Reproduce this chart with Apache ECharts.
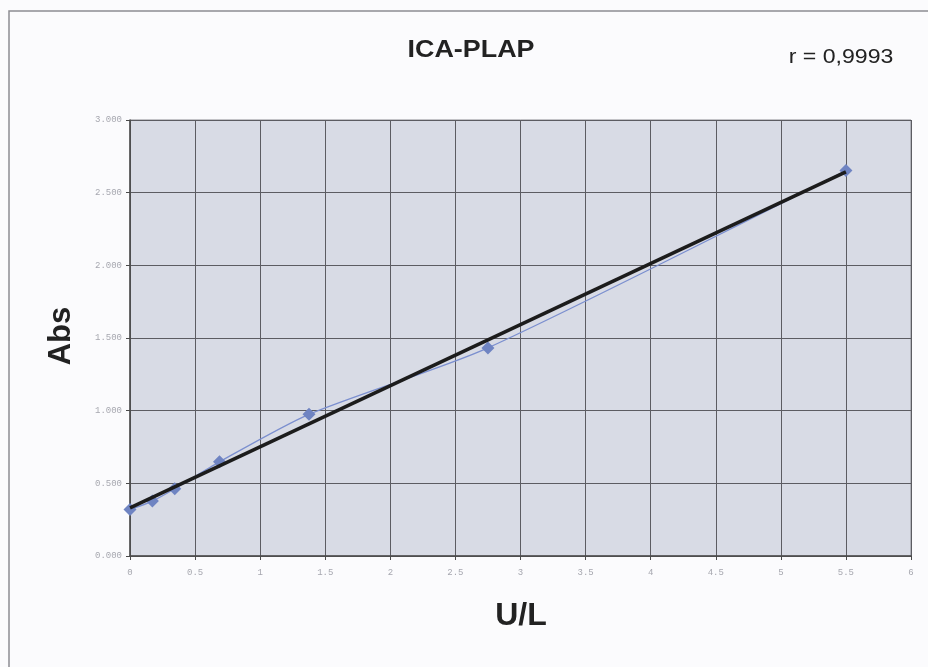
<!DOCTYPE html>
<html>
<head>
<meta charset="utf-8">
<script src="https://cdn.jsdelivr.net/npm/echarts@6/dist/echarts.min.js"></script>
<style>
  html, body { margin: 0; padding: 0; background: #fbfbfd; }
  #chart { width: 928px; height: 667px; }
</style>
</head>
<body>
<div id="chart"></div>
<script>
// Calibration points: activity (U/L) and measured absorbance
const activity = [0, 0.171875, 0.34375, 0.6875, 1.375, 2.75, 5.5];
const absorbance = [0.320, 0.378, 0.463, 0.648, 0.975, 1.432, 2.652];

const yTicks = [0, 0.5, 1, 1.5, 2, 2.5, 3];
const xTicks = [0, 0.5, 1, 1.5, 2, 2.5, 3, 3.5, 4, 4.5, 5, 5.5, 6];

const titleText = 'ICA-PLAP';
const rText = 'r = 0,9993';
const yName = 'Abs';
const xName = 'U/L';

// Least-squares trend line through the calibration points
function linearFit(xs, ys) {
  const n = xs.length;
  const mx = xs.reduce((a, b) => a + b, 0) / n;
  const my = ys.reduce((a, b) => a + b, 0) / n;
  let sxx = 0, sxy = 0;
  for (let i = 0; i < n; i++) {
    sxx += (xs[i] - mx) * (xs[i] - mx);
    sxy += (xs[i] - mx) * (ys[i] - my);
  }
  const slope = sxy / sxx;
  return { slope, intercept: my - slope * mx };
}
const fit = linearFit(activity, absorbance);
const xMin = Math.min(...activity), xMax = Math.max(...activity);
const trend = [
  [xMin, fit.intercept + fit.slope * xMin],
  [xMax, fit.intercept + fit.slope * xMax]
];

const chart = echarts.init(document.getElementById('chart'), null, { renderer: 'canvas' });

const tickLabel = {
  fontFamily: 'Liberation Mono',
  fontSize: 9,
  color: '#a6a7af'
};

chart.setOption({
  backgroundColor: '#fbfbfd',
  animation: false,
  grid: {
    left: 130, right: 17, top: 120, bottom: 111,
    show: true,
    backgroundColor: '#d8dbe5',
    borderColor: '#8a8a90',
    borderWidth: 1
  },
  xAxis: {
    type: 'value',
    min: xTicks[0], max: xTicks[xTicks.length - 1], interval: 0.5,
    axisLine: { show: true, lineStyle: { color: '#4a4a4a', width: 1.5 } },
    axisTick: { show: true, length: 4, lineStyle: { color: '#4a4a4a' } },
    axisLabel: Object.assign({ margin: 12 }, tickLabel),
    splitLine: { show: true, lineStyle: { color: '#5c5c62', width: 1 } }
  },
  yAxis: {
    type: 'value',
    min: yTicks[0], max: yTicks[yTicks.length - 1], interval: 0.5,
    axisLine: { show: true, lineStyle: { color: '#4a4a4a', width: 1.5 } },
    axisTick: { show: true, length: 4, lineStyle: { color: '#4a4a4a' } },
    axisLabel: Object.assign({ margin: 8, formatter: v => v.toFixed(3) }, tickLabel),
    splitLine: { show: true, lineStyle: { color: '#5c5c62', width: 1 } }
  },
  series: [
    {
      name: 'ICA-PLAP',
      type: 'line',
      data: activity.map((x, i) => [x, absorbance[i]]),
      smooth: 0.25,
      symbol: 'diamond',
      symbolSize: 13,
      lineStyle: { color: '#7b8fcf', width: 1.3 },
      itemStyle: { color: '#6f84c2' },
      z: 3
    },
    {
      name: 'trend',
      type: 'line',
      data: trend,
      symbol: 'none',
      lineStyle: { color: '#1c1c1c', width: 3.5 },
      z: 4
    }
  ],
  graphic: [
    {
      type: 'rect',
      shape: { x: 9, y: 11, width: 940, height: 700 },
      style: { fill: 'none', stroke: '#8d8d92', lineWidth: 1.5 },
      z: 0
    },
    {
      type: 'text',
      x: 471, y: 50,
      scaleX: 1.12,
      style: {
        text: titleText,
        font: 'bold 24px "Liberation Sans", Arial, sans-serif',
        fill: '#222',
        align: 'center', verticalAlign: 'middle'
      }
    },
    {
      type: 'text',
      x: 841, y: 57,
      scaleX: 1.1,
      style: {
        text: rText,
        font: '21px "Liberation Sans", Arial, sans-serif',
        fill: '#222',
        align: 'center', verticalAlign: 'middle'
      }
    },
    {
      type: 'text',
      x: 61, y: 336,
      rotation: Math.PI / 2,
      style: {
        text: yName,
        font: 'bold 31px "Liberation Sans", Arial, sans-serif',
        fill: '#222',
        align: 'center', verticalAlign: 'middle'
      }
    },
    {
      type: 'text',
      x: 521, y: 616,
      style: {
        text: xName,
        font: 'bold 32px "Liberation Sans", Arial, sans-serif',
        fill: '#222',
        align: 'center', verticalAlign: 'middle'
      }
    }
  ]
});
</script>
</body>
</html>
